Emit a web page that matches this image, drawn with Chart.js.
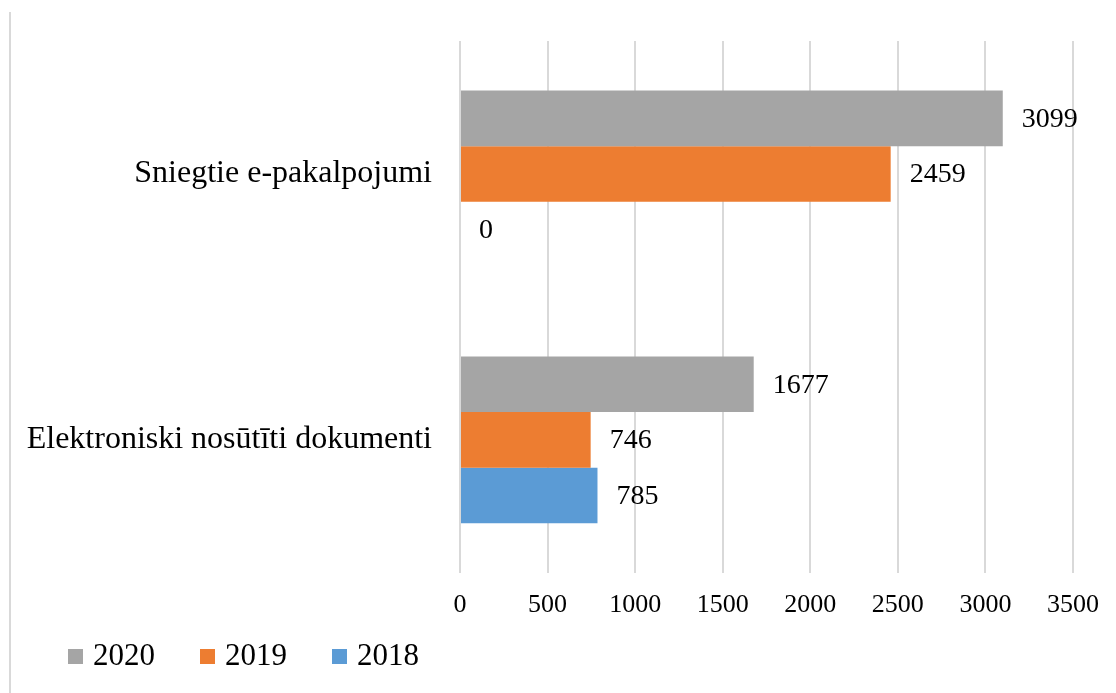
<!DOCTYPE html>
<html>
<head>
<meta charset="utf-8">
<script src="https://cdn.jsdelivr.net/npm/chart.js@4"></script>
<style>
  html, body { margin: 0; padding: 0; background: #fff; }
  #wrap { position: absolute; left: 0; top: 0; width: 1116px; height: 693px; }
  #frame { position: absolute; left: 9px; top: 12px; bottom: 0; width: 2px; background: #d9d9d9; }
</style>
</head>
<body>
<div id="frame"></div>
<div id="wrap"><canvas id="grafico"></canvas></div>
<script>
// dati
const kategorijas = ['Sniegtie e-pakalpojumi', 'Elektroniski nosūtīti dokumenti'];
const gadi = ['2020', '2019', '2018'];
const vertibas2020 = [3099, 1677];
const vertibas2019 = [2459, 746];
const vertibas2018 = [0, 785];
const krasas = ['#a5a5a5', '#ed7d31', '#5b9bd5'];

const serif = 'Liberation Serif, Times New Roman, serif';

// vērtību uzraksti pa labi no stabiņiem
const uzraksti = {
    id: 'uzraksti',
    afterDatasetsDraw(chart) {
        const ctx = chart.ctx;
        ctx.save();
        ctx.font = '28px ' + serif;
        ctx.fillStyle = '#000';
        ctx.textBaseline = 'middle';
        ctx.textAlign = 'left';
        chart.data.datasets.forEach((ds, i) => {
            chart.getDatasetMeta(i).data.forEach((el, j) => {
                ctx.fillText(String(ds.data[j]), el.x + 19, el.y + 1);
            });
        });
        ctx.restore();
    }
};

// leģenda apakšā pa kreisi
const legenda = {
    id: 'legenda',
    afterDraw(chart) {
        const ctx = chart.ctx;
        const y = 656;
        let x = 68;
        ctx.save();
        ctx.font = '31px ' + serif;
        ctx.textBaseline = 'middle';
        ctx.textAlign = 'left';
        chart.data.datasets.forEach(ds => {
            ctx.fillStyle = ds.backgroundColor;
            ctx.fillRect(x, y - 7, 15, 15);
            x += 25;
            ctx.fillStyle = '#000';
            ctx.fillText(ds.label, x, y + 1);
            x += ctx.measureText(ds.label).width + 45;
        });
        ctx.restore();
    }
};

const ctxGrafiks = document.getElementById('grafico');

new Chart(ctxGrafiks, {
    type: 'bar',
    data: {
        labels: kategorijas,
        datasets: [
            { label: gadi[0], data: vertibas2020, backgroundColor: krasas[0] },
            { label: gadi[1], data: vertibas2019, backgroundColor: krasas[1] },
            { label: gadi[2], data: vertibas2018, backgroundColor: krasas[2] }
        ]
    },
    options: {
        indexAxis: 'y',
        responsive: true,
        maintainAspectRatio: false,
        animation: false,
        datasets: {
            bar: { barPercentage: 1, categoryPercentage: 0.627 }
        },
        layout: { padding: { left: 20, top: 41, right: 29, bottom: 55 } },
        plugins: {
            tooltip: { enabled: false },
            legend: { display: false }
        },
        scales: {
            x: {
                min: 0,
                max: 3500,
                ticks: {
                    stepSize: 500,
                    padding: 17,
                    color: '#000',
                    font: { family: serif, size: 26 },
                    callback: v => String(v)
                },
                grid: { color: '#d9d9d9', lineWidth: 2, drawTicks: false },
                border: { display: false }
            },
            y: {
                afterFit(scale) {
                    scale.width = 440;
                    scale.paddingTop = 0;
                    scale.paddingBottom = 0;
                },
                ticks: {
                    padding: 28,
                    color: '#000',
                    font: { family: serif, size: 32 }
                },
                grid: { display: false, drawTicks: false },
                border: { display: false }
            }
        }
    },
    plugins: [uzraksti, legenda]
});
</script>
</body>
</html>
